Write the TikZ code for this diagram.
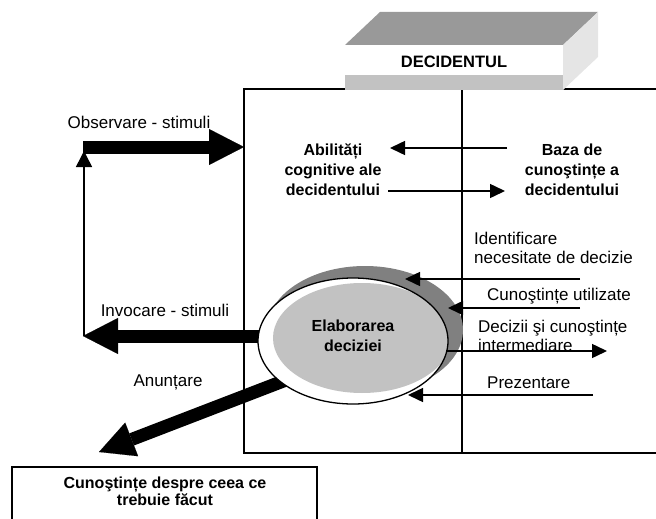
\documentclass[tikz,border=0pt]{standalone}
\usepackage{fontspec}
\setmainfont{Liberation Sans}
\usetikzlibrary{arrows.meta,shapes.geometric}
\definecolor{facetop}{gray}{0.60}
\definecolor{faceside}{gray}{0.90}
\definecolor{facestrip}{gray}{0.76}
\definecolor{shadegray}{gray}{0.50}
\definecolor{innergray}{gray}{0.76}
\begin{document}
\begin{tikzpicture}[x=1pt,y=-1pt,
  frame/.style={line width=1.4pt},
  thinarrow/.style={line width=1.5pt,-{Triangle[length=15pt,width=14pt]}},
  uparrow/.style={line width=1.5pt,-{Triangle[length=16pt,width=16pt]}},
  bigarrow/.style={line width=13pt,-{Triangle[length=35pt,width=36pt,line width=0.1pt]}},
  lbl/.style={font=\fontsize{17}{19}\selectfont,inner sep=0pt},
  blbl/.style={font=\fontsize{16}{20}\selectfont\bfseries,inner sep=0pt,align=center}]
\useasboundingbox (0,0) rectangle (656,519);
\clip (0,0) rectangle (656,519);

% main frame with its divider
\draw[frame] (244,89) rectangle (690,453);
\draw[frame] (462,89) -- (462,453);

% result box at the bottom
\draw[frame] (12,540) -- (12,467) -- (317,467) -- (317,540);
\node[blbl,font=\fontsize{16}{17}\selectfont\bfseries] (know) at (165,491)
  {Cunoştințe despre ceea ce\\trebuie făcut};

% end points of the connectors
\coordinate (obsA) at (83,147);  \coordinate (obsB) at (244,147);
\coordinate (invA) at (270,336); \coordinate (invB) at (83,336);
\coordinate (upA)  at (84,336);  \coordinate (upB)  at (84,151);
\coordinate (anA)  at (286,380); \coordinate (anB)  at (99,452);
\coordinate (abA)  at (507,148); \coordinate (abB)  at (390,148);
\coordinate (baA)  at (388,191); \coordinate (baB)  at (505,191);
\coordinate (idA)  at (580,279); \coordinate (idB)  at (405,279);
\coordinate (cuA)  at (580,308); \coordinate (cuB)  at (448,308);
\coordinate (deA)  at (446,351); \coordinate (deB)  at (607,351);
\coordinate (prA)  at (593,395); \coordinate (prB)  at (408,395);

% stimuli loop on the left
\draw[uparrow] (upA) -- (upB);
\draw[bigarrow] (obsA) -- (obsB);
\draw[bigarrow] (invA) -- (invB);
\draw[bigarrow] (anA) -- (anB);

\node[lbl] (obs) at (139,122) {Observare - stimuli};
\node[lbl] (inv) at (165,310) {Invocare - stimuli};
\node[lbl] (anu) at (168,382) {Anunțare};

% decision ellipse: shadow, white body, grey core
\fill[shadegray] (365,330) ellipse [x radius=98pt,y radius=64pt];
\fill[white] (353,341) ellipse [x radius=95pt,y radius=63pt];
\begin{scope}
  \clip (353,341) ellipse [x radius=95pt,y radius=63pt];
  \fill[innergray] (362,338) ellipse [x radius=89pt,y radius=55pt];
\end{scope}
\draw[line width=1.3pt] (353,341) ellipse [x radius=95pt,y radius=63pt];
\node[blbl] (elab) at (353,336) {Elaborarea\\deciziei};

% knowledge exchange
\node[blbl] (abil) at (333,170) {Abilități\\cognitive ale\\decidentului};
\node[blbl] (baza) at (572,170) {Baza de\\cunoştințe a\\decidentului};
\draw[thinarrow] (abA) -- (abB);
\draw[thinarrow] (baA) -- (baB);

% flows on the right
\node[lbl,anchor=west,align=left] (ident) at (474,248)
  {Identificare\\necesitate de decizie};
\node[lbl,anchor=west] (used) at (487,296) {Cunoştințe utilizate};
\node[lbl,anchor=west,align=left] (inter) at (478,336)
  {Decizii şi cunoştințe\\intermediare};
\node[lbl,anchor=west] (pres) at (487,383) {Prezentare};
\draw[thinarrow] (idA) -- (idB);
\draw[thinarrow] (cuA) -- (cuB);
\draw[thinarrow] (deA) -- (deB);
\draw[thinarrow] (prA) -- (prB);

% the decision maker block
\fill[facetop] (345,45) -- (380,12) -- (598,12) -- (563,45) -- cycle;
\fill[faceside] (563,45) -- (598,12) -- (598,57) -- (563,90) -- cycle;
\fill[white] (345,45) rectangle (563,75);
\fill[facestrip] (345,75) rectangle (563,90);
\node[blbl,font=\fontsize{16.5}{20}\selectfont\bfseries] (dec) at (454,62) {DECIDENTUL};
\end{tikzpicture}
\end{document}
